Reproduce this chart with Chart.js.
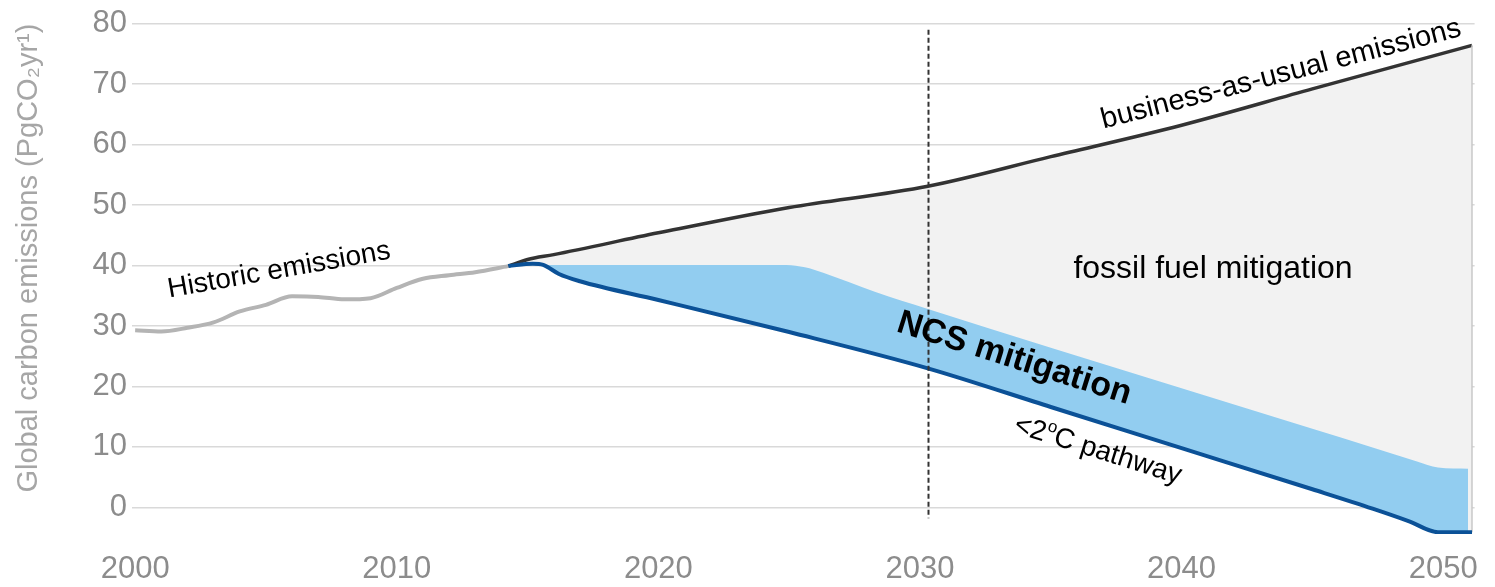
<!DOCTYPE html>
<html>
<head>
<meta charset="utf-8">
<script src="https://cdn.jsdelivr.net/npm/chart.js@4/dist/chart.umd.min.js"></script>
<style>
  html, body { margin: 0; padding: 0; background: #fff; }
  #wrap { position: relative; width: 1495px; height: 587px; }
</style>
</head>
<body>
<div id="wrap"><canvas id="myChart"></canvas></div>
<script>
// 軸の目盛り
var xTicks = [2000, 2010, 2020, 2030, 2040, 2050];
var yTicks = [0, 10, 20, 30, 40, 50, 60, 70, 80];

// 過去の排出量
var histYears  = [2000, 2001, 2002, 2003, 2004, 2005, 2006, 2007, 2008, 2009, 2010, 2011, 2012, 2013, 2014.26];
var histValues = [29.3, 29.1, 29.7, 30.6, 32.4, 33.5, 34.9, 34.8, 34.4, 34.6, 36.3, 37.8, 38.4, 38.9, 39.9];

// business-as-usual
var bauYears  = [2014.26, 2015, 2016, 2020, 2025, 2030.3, 2035, 2040, 2045, 2051.1];
var bauValues = [39.9, 41.0, 41.8, 45.4, 49.6, 53.1, 58.0, 63.2, 69.2, 76.4];

// NCS mitigation の上端
var ncsYears  = [2014.26, 2015.2, 2024.9, 2025.6, 2026.3, 2028.3, 2030.3, 2035, 2040, 2045, 2047.3, 2049, 2049.8, 2050.95];
var ncsValues = [39.9, 40.1, 40.1, 39.7, 38.8, 35.6, 32.8, 26.4, 19.7, 13.0, 9.9, 7.6, 6.6, 6.4];

// <2°C pathway
var pathYears  = [2014.26, 2015.2, 2015.6, 2016.2, 2017, 2020, 2025, 2030.3, 2035, 2040, 2045, 2047.3, 2048.7, 2049.8, 2051.1];
var pathValues = [39.9, 40.3, 40.1, 38.6, 37.4, 34.3, 29.0, 23.0, 16.6, 9.8, 3.0, -0.2, -2.3, -4.1, -4.1];

// 2030年の点線
var markerYear = 2030.3;
var markerRange = [-1.8, 79];

var FONT = "'Liberation Sans', Arial, sans-serif";

// 図中の注記
var notes = [
  {text: 'Historic emissions', x: 2005.5, y: 39.2, angle: -10, size: 28, bold: false},
  {text: 'business-as-usual emissions', x: 2043.8, y: 71.6, angle: -14.5, size: 29, bold: false},
  {text: 'fossil fuel mitigation', x: 2041.2, y: 39.4, angle: 0, size: 32, bold: false},
  {text: 'NCS mitigation', x: 2033.6, y: 24.6, angle: 17.5, size: 34, bold: true},
  {text: 'pathway', x: 2036.8, y: 9.4, angle: 17.5, size: 28, bold: false, prefix: true}
];

function pts(xs, ys) {
  return xs.map(function(x, i) { return {x: x, y: ys[i]}; });
}

var last = bauYears.length - 1;

var notePlugin = {
  id: 'notes',
  afterDatasetsDraw: function(chart) {
    var c = chart.ctx, xs = chart.scales.x, ys = chart.scales.y;
    // 点線
    c.save();
    c.strokeStyle = '#333333';
    c.lineWidth = 2;
    c.setLineDash([5, 3]);
    var mx = Math.round(xs.getPixelForValue(markerYear)) + 0.5;
    c.beginPath();
    c.moveTo(mx, ys.getPixelForValue(markerRange[1]));
    c.lineTo(mx, ys.getPixelForValue(markerRange[0]));
    c.stroke();
    c.restore();

    notes.forEach(function(n) {
      c.save();
      c.translate(xs.getPixelForValue(n.x), ys.getPixelForValue(n.y));
      c.rotate(n.angle * Math.PI / 180);
      c.fillStyle = '#000';
      c.textBaseline = 'middle';
      c.font = (n.bold ? 'bold ' : '') + n.size + 'px ' + FONT;
      if (n.prefix) {
        // "<2°C pathway" の上付き o
        var a = '<2', b = 'o', d = 'C ' + n.text;
        var wa = c.measureText(a).width, wd = c.measureText(d).width;
        c.font = Math.round(n.size * 0.6) + 'px ' + FONT;
        var wb = c.measureText(b).width;
        var x0 = -(wa + wb + wd) / 2;
        c.textAlign = 'left';
        c.font = n.size + 'px ' + FONT;
        c.fillText(a, x0, 0);
        c.font = Math.round(n.size * 0.6) + 'px ' + FONT;
        c.fillText(b, x0 + wa, -n.size * 0.3);
        c.font = n.size + 'px ' + FONT;
        c.fillText(d, x0 + wa + wb, 0);
      } else {
        c.textAlign = 'center';
        c.fillText(n.text, 0, 0);
      }
      c.restore();
    });
  }
};

var ctx = document.getElementById('myChart');

var myChart = new Chart(ctx, {
  type: 'line',
  data: {
    datasets: [{
      label: 'Historic emissions',
      data: pts(histYears, histValues),
      borderColor: '#b4b4b4',
      borderWidth: 4,
      cubicInterpolationMode: 'monotone',
      fill: false,
      order: 1
    }, {
      label: '<2°C pathway',
      data: pts(pathYears, pathValues),
      borderColor: '#0b5197',
      borderWidth: 4,
      cubicInterpolationMode: 'monotone',
      fill: false,
      order: 2
    }, {
      label: 'NCS mitigation',
      data: pts(ncsYears, ncsValues),
      borderWidth: 0,
      borderColor: 'rgba(0,0,0,0)',
      cubicInterpolationMode: 'monotone',
      fill: {target: 1, above: '#92cdf0', below: '#92cdf0'},
      order: 3
    }, {
      label: 'edge',
      data: [{x: bauYears[last], y: pathValues[pathValues.length - 1]}, {x: bauYears[last], y: bauValues[last]}],
      borderColor: '#c8c8c8',
      borderWidth: 1.5,
      fill: false,
      order: 3.5
    }, {
      label: 'business-as-usual emissions',
      data: pts(bauYears, bauValues),
      borderColor: '#333333',
      borderWidth: 3.5,
      cubicInterpolationMode: 'monotone',
      fill: {target: 1, above: '#f2f2f2', below: '#f2f2f2'},
      order: 4
    }]
  },
  options: {
    responsive: true,
    maintainAspectRatio: false,
    animation: false,
    layout: { padding: { left: 0, right: 13, top: 19, bottom: 0 } },
    elements: { point: { radius: 0, hoverRadius: 0 } },
    plugins: {
      legend: { display: false },
      tooltip: { enabled: false }
    },
    scales: {
      x: {
        type: 'linear',
        min: 1999.88,
        max: 2051.2,
        grid: { display: false, drawTicks: false },
        border: { display: false },
        afterBuildTicks: function(axis) {
          axis.ticks = xTicks.map(function(v) { return {value: v}; });
        },
        afterFit: function(axis) { axis.height = 53; },
        ticks: {
          autoSkip: false,
          maxRotation: 0,
          padding: 17,
          color: '#8c8c8c',
          font: { family: FONT, size: 31 },
          callback: function(v) { return String(v); }
        }
      },
      y: {
        min: -4.4,
        max: 80,
        grid: { color: '#d9d9d9', lineWidth: 1.5, drawTicks: false },
        border: { display: false },
        afterBuildTicks: function(axis) {
          axis.ticks = yTicks.map(function(v) { return {value: v}; });
        },
        afterFit: function(axis) { axis.width = 132; },
        ticks: {
          padding: 5,
          color: '#8c8c8c',
          font: { family: FONT, size: 31 }
        },
        title: {
          display: true,
          text: 'Global carbon emissions (PgCO\u2082yr\u00b9)',
          align: 'end',
          color: '#a6a6a6',
          font: { family: FONT, size: 29 },
          padding: { top: 12, bottom: 0 }
        }
      }
    }
  },
  plugins: [notePlugin]
});
</script>
</body>
</html>
